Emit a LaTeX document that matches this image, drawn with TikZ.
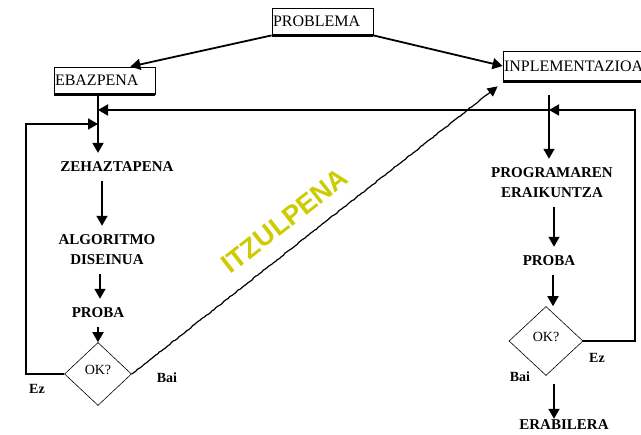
\documentclass[tikz,border=0pt]{standalone}
\usepackage{fontspec}
\setmainfont{Liberation Serif}
\newfontfamily\itzfont{Liberation Sans}
\usetikzlibrary{arrows.meta,shapes.geometric,decorations.pathmorphing}
\definecolor{itzcol}{RGB}{204,204,0}
\begin{document}
\begin{tikzpicture}[x=1pt,y=-1pt,
  box/.style={draw,line width=0.8pt,inner xsep=1pt,inner ysep=0pt,align=left,
    font=\fontsize{16}{16}\selectfont},
  shadowline/.style={line width=2.4pt},
  lbl/.style={font=\bfseries\fontsize{15}{20}\selectfont,inner xsep=0pt,inner ysep=9pt,align=center},
  conn/.style={line width=1.8pt,-{Triangle[length=10pt,width=11pt]}},
  decis/.style={draw,diamond,line width=0.6pt,inner sep=0pt,text depth=8pt,
    font=\fontsize{14}{14}\selectfont},
  yesno/.style={font=\bfseries\fontsize{14}{14}\selectfont,inner sep=0pt},
  wavy/.style={line width=1.2pt,decorate,
    decoration={random steps,segment length=2.5pt,amplitude=0.45pt,post length=9pt},
    -{Triangle[length=10pt,width=10pt]}}]
\useasboundingbox[fill=white] (0,0) rectangle (641,435);

% boxes
\node[box,text width=99pt,minimum height=27pt] (prob) at (322.5,21.5) {PROBLEMA};
\node[box,text width=99pt,minimum height=27pt] (ebaz) at (104.5,80.5) {EBAZPENA};
\node[box,text width=165pt,minimum height=30pt] (inpl) at (586.5,66) {INPLEMENTAZIOA};
\draw[shadowline] (prob.south west) -- (prob.south east);
\draw[shadowline] (ebaz.south west) -- (ebaz.south east);
\draw[shadowline] (inpl.south west) -- (inpl.south east);

\draw[conn] (prob.south west) -- ([xshift=-25pt]ebaz.north east);
\draw[conn] (prob.south east) -- (inpl.west);

% helper coordinates
\coordinate (ebs) at (98,94);
\coordinate (j1) at (98,110);
\coordinate (j2) at (98,124);
\coordinate (lx) at (26,0);
\coordinate (ib) at (549,95);
\coordinate (ji) at (549,110);
\coordinate (rx) at (635,0);

% left column
\node[lbl] (zeh) at (117,167) {ZEHAZTAPENA};
\node[lbl] (alg) at (107,250) {ALGORITMO\\DISEINUA};
\node[lbl] (pr1) at (98,313) {PROBA};
\node[decis,minimum width=67pt,minimum height=63pt] (ok1) at (98,374) {OK?};
\node[yesno] (ez1) at (37,389) {Ez};
\node[yesno] (bai1) at (167,378) {Bai};

\draw[conn] (ebs) -- (zeh.north -| ebs);
\draw[conn] ([xshift=-15pt]zeh.south) -- ([xshift=-5pt]alg.north);
\draw[conn] ([xshift=-7pt]alg.south) -- ([xshift=-7pt]alg.south |- pr1.north);
\draw[conn] (pr1.south) -- (ok1.north);
\draw[conn] (ok1.west) -- (ok1.west -| lx) |- (j2);

% translation
\draw[wavy] (ok1.east) -- ([xshift=-5pt,yshift=-5pt]inpl.south west);
\node[rotate=38,text=itzcol,inner sep=0pt,font=\itzfont\bfseries\fontsize{27}{27}\selectfont] (itz) at (285,221) {ITZULPENA};

% right column
\node[lbl] (prog) at (552,183) {PROGRAMAREN\\ERAIKUNTZA};
\node[lbl] (pr2) at (549,261) {PROBA};
\node[decis,minimum width=74pt,minimum height=69pt] (ok2) at (546,341) {OK?};
\node[lbl] (erab) at (564,425) {ERABILERA};
\node[yesno] (ez2) at (597,358) {Ez};
\node[yesno] (bai2) at (520,377) {Bai};

\draw[conn] (ib) -- (prog.north -| ib);
\draw[conn] ([xshift=2pt]prog.south) -- ([xshift=2pt]prog.south |- pr2.north);
\draw[conn] ([xshift=4pt]pr2.south) -- ([xshift=4pt]pr2.south |- ok2.north);
\draw[conn] ([xshift=8pt,yshift=-8pt]ok2.south) -- ([xshift=8pt,yshift=-8pt]ok2.south |- erab.north);

% feedback lines
\draw[conn] (ok2.east) -- (ok2.east -| rx) |- (ji);
\draw[conn] (ji) -- (j1);
\end{tikzpicture}
\end{document}
